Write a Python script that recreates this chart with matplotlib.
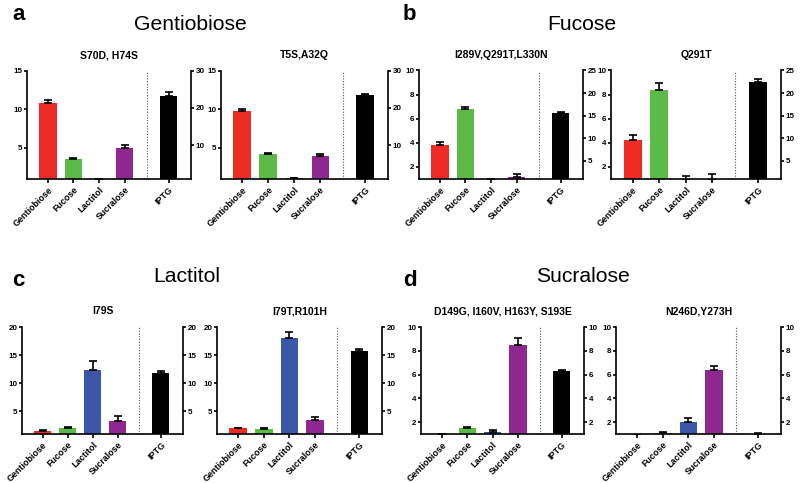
import matplotlib
matplotlib.use('Agg')
import matplotlib.pyplot as plt

plt.rcParams['font.family'] = ['Liberation Sans', 'DejaVu Sans']

W, H = 800, 483

# Kategorie i kolory
sugars = ['Gentiobiose', 'Fucose', 'Lactitol', 'Sucralose']
sugar_colors = ['#ee2b24', '#5cbb46', '#3b56a6', '#8e278f']
iptg_label = 'IPTG'

# Panele (grupy) i mutanty
panel_letters = ['a', 'b', 'c', 'd']
panel_titles = ['Gentiobiose', 'Fucose', 'Lactitol', 'Sucralose']
mutants = ['S70D, H74S', 'T5S,A32Q',
           'I289V,Q291T,L330N', 'Q291T',
           'I79S', 'I79T,R101H',
           'D149G, I160V, H163Y, S193E', 'N246D,Y273H']

# Wartości (indukcja, oś lewa)
sugar_means = [[10.85, 3.6, 1.0, 5.05],
               [9.8, 4.2, 1.08, 3.95],
               [3.8, 6.8, 1.0, 1.2],
               [4.2, 8.35, 0.9, 0.9],
               [1.6, 2.1, 12.35, 3.25],
               [2.0, 1.95, 18.0, 3.55],
               [1.0, 1.48, 1.2, 8.5],
               [0.95, 1.05, 2.03, 6.35]]
sugar_errs = [[0.3, 0.05, 0.0, 0.3],
              [0.2, 0.15, 0.04, 0.3],
              [0.25, 0.2, 0.0, 0.2],
              [0.45, 0.65, 0.37, 0.48],
              [0.15, 0.2, 1.6, 1.0],
              [0.15, 0.15, 1.2, 0.4],
              [0.0, 0.1, 0.14, 0.55],
              [0.0, 0.08, 0.3, 0.35]]

# IPTG (oś prawa)
iptg_means = [23.3, 23.4, 15.5, 22.5, 11.9, 15.7, 6.3, 1.03]
iptg_errs = [0.9, 0.3, 0.35, 0.7, 0.2, 0.45, 0.08, 0.05]

# Zakresy osi i podziałki
left_tops = [15, 15, 10, 10, 20, 20, 10, 10]
right_tops = [30, 30, 25, 25, 20, 20, 10, 10]
left_ticks = [[5, 10, 15], [5, 10, 15], [2, 4, 6, 8, 10], [2, 4, 6, 8, 10],
              [5, 10, 15, 20], [5, 10, 15, 20], [2, 4, 6, 8, 10], [2, 4, 6, 8, 10]]
right_ticks = [[10, 20, 30], [10, 20, 30], [5, 10, 15, 20, 25], [5, 10, 15, 20, 25],
               [5, 10, 15, 20], [5, 10, 15, 20], [2, 4, 6, 8, 10], [2, 4, 6, 8, 10]]

# Pozycje osi w pikselach: (lewa krawędź, prawa krawędź, góra, dół)
axes_px = [(27, 191, 70.5, 179), (221, 388, 70.5, 179),
           (419, 583, 70.5, 179), (611, 781, 70.5, 179),
           (22, 183, 327, 434), (217, 382, 327, 434),
           (421, 584, 327, 434), (616, 781, 327, 434)]

# Nagłówki grup: (x, y) w pikselach
group_title_px = [(190, 25), (582, 25), (187, 277), (583, 277)]
letter_px = [(12, 15), (403, 15), (12, 281), (403, 281)]

BAR_W = 0.68
IPTG_X = 4.72
DIV_X = 3.86
LW = 1.2

fig = plt.figure(figsize=(W / 100, H / 100), dpi=100)
fig.patch.set_facecolor('white')

for i in range(8):
    x0, x1, yt, yb = axes_px[i]
    ax = fig.add_axes([x0 / W, 1 - yb / H, (x1 - x0) / W, (yb - yt) / H])
    ax2 = ax.twinx()

    xs = list(range(len(sugars)))
    ax.bar(xs, sugar_means[i], width=BAR_W, color=sugar_colors, zorder=2)
    ax.errorbar(xs, sugar_means[i], yerr=[[0] * 4, sugar_errs[i]], fmt='none',
                ecolor='black', elinewidth=LW, capsize=3.2, capthick=LW, zorder=3)
    ax2.bar([IPTG_X], [iptg_means[i]], width=BAR_W, color='black', zorder=2)
    ax2.errorbar([IPTG_X], [iptg_means[i]], yerr=[[0], [iptg_errs[i]]], fmt='none',
                 ecolor='black', elinewidth=LW, capsize=3.2, capthick=LW, zorder=3)

    ax.axvline(DIV_X, color='#555555', linestyle=(0, (1, 1.5)), linewidth=0.8)

    ax.set_xlim(-0.82, 5.6)
    ax.set_ylim(1, left_tops[i])
    ax2.set_ylim(1, right_tops[i])
    ax.set_yticks(left_ticks[i])
    ax2.set_yticks(right_ticks[i])

    ax.set_xticks(xs + [IPTG_X])
    ax.set_xticklabels(sugars + [iptg_label], rotation=45, ha='right',
                       rotation_mode='anchor', fontsize=6.4, fontweight='bold')

    for a in (ax, ax2):
        a.spines['top'].set_visible(False)
        for s in a.spines.values():
            s.set_linewidth(LW)
        a.tick_params(axis='y', width=LW, length=2.5, labelsize=5.8, pad=0.8)
        a.tick_params(axis='x', width=LW, length=3, pad=1.5)
        for lab in a.get_yticklabels():
            lab.set_fontweight('bold')
    ax.spines['right'].set_visible(False)
    ax2.spines['left'].set_visible(False)
    ax2.spines['bottom'].set_visible(False)

    ax.set_title(mutants[i], fontsize=7.5, fontweight='bold', pad=9)

for j in range(4):
    gx, gy = group_title_px[j]
    fig.text(gx / W, 1 - gy / H, panel_titles[j], fontsize=15.2,
             ha='center', va='center')
    lx, ly = letter_px[j]
    fig.text(lx / W, 1 - ly / H, panel_letters[j], fontsize=16,
             fontweight='bold', ha='left', va='center')

fig.savefig('out.png', dpi=100, facecolor='white')
